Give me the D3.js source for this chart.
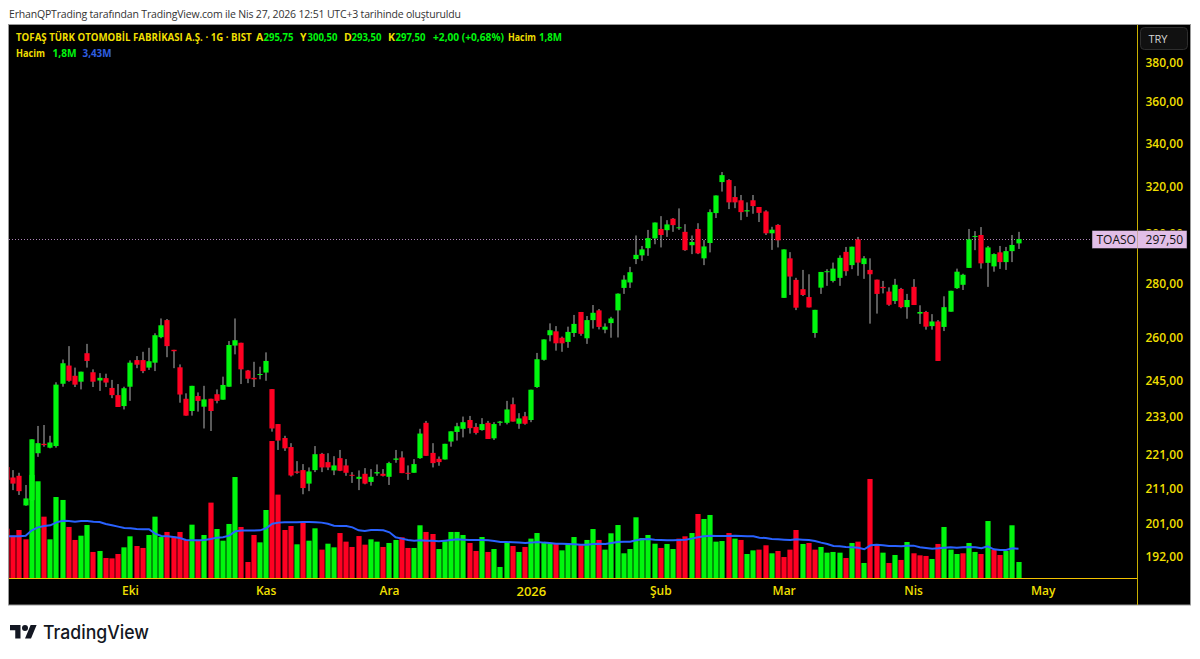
<!DOCTYPE html>
<html><head><meta charset="utf-8">
<script src="https://cdn.jsdelivr.net/npm/d3@7/dist/d3.min.js"></script>
<style>html,body{margin:0;padding:0;background:#fff;overflow:hidden}svg{display:block}
text{font-family:"Open Sans","Noto Sans",sans-serif}</style></head><body>
<svg id="c" width="1200" height="659"></svg>
<script>
const opens=[217.1,214,214.5,205.9,207.4,221.3,224.2,223,223.5,243.6,249.8,246.3,244.3,254.1,247.5,244.7,245.5,242.2,239.8,236.2,242.6,251.7,251.7,249.1,250.8,259.8,266,255.3,249.2,238.6,234.6,239.5,236,238.6,240.1,238.3,242.6,256.8,257.8,248.1,245.6,246.6,247.4,241.8,230.4,226,223.2,215.8,216.2,212.2,216.2,221.1,218.6,216.1,219.8,217.6,214.8,213.6,215.1,212.7,215.2,215.1,214.2,219.3,220,215.4,215.4,219.8,230.8,221.4,219.6,219.4,224.9,227.9,228.9,231.7,229.5,228.5,230.8,225.9,230.8,230.8,236.8,230.5,232.9,231.7,242.5,251.8,260.5,261.9,259.6,258.1,261.3,269,259.4,266,269.6,262.5,264.9,269.6,278.1,280.2,289.4,290.9,293.8,297.8,301.7,301.2,306,302,300.5,295,301.7,289.7,295.9,308.4,321.9,322.8,315.3,313.9,309.1,313.9,311,309.1,299.9,303.4,274.3,289.7,281.2,277.6,274.6,261.3,278.2,284.2,280.8,282,292.3,287,297.4,287.4,285.1,281.3,278.5,276.7,273.1,277.7,270.8,278.5,268.4,269,263.8,265.5,263.5,269.1,278,279.3,285.9,298.4,299.2,287.9,286.5,292.1,288.2,292.6,295.75];
const highs=[217.1,216.2,215.4,211.8,225.6,229.8,230.1,226.7,244.1,251.9,256.6,249.1,247.7,257.4,248.5,247.2,247,244.9,243.5,242.6,251.6,253.1,254.6,256,261.2,266.6,266.4,255.3,250.2,240.4,242.9,240.7,242.9,238.6,241.7,246,258.4,266.6,257.8,248.3,251.1,249.4,254.4,241.8,230.4,226.7,224.4,218.9,218,217,223.5,221.4,221.3,220.4,222.3,219.5,215.6,216.1,216.8,216.5,217.9,216.5,218.7,222.3,221.9,217.6,219.5,228.9,231.4,224.4,220.3,224.2,228.1,230.8,232.8,233,230.7,232.3,231.4,231,231.4,237.9,239,233.9,234.3,241.6,254.2,259,264.8,263.8,260,263.6,267.9,269,267.5,271.6,270.1,264.8,267.2,276,283,286.3,299,294.7,301.3,304.4,307.1,305.4,306.3,310.4,303.7,299,304.1,297.1,310,316,326.4,323.2,320.1,316.2,313,316.2,311,309.6,302.6,303.7,293.3,292.2,282,285.1,283.4,269.8,284.3,285.4,288,290.9,294.3,294.4,298.4,290.6,289.7,281.3,280.8,278.3,281.6,278.1,275.8,281.5,271.5,269.4,268.2,266,274.9,277,285.6,283.6,301.7,300.8,302.5,294.7,291.7,294.7,294.3,299.2,300.5];
const lows=[213.3,210.3,208.9,205.8,207.4,220.2,223.3,222.8,223,242.6,244.3,242.5,241.7,249.1,242.5,241.2,242.5,238.8,235.9,235.1,237.9,248.9,247.2,248.3,247.9,259.4,252.7,248.9,237.3,233.1,233.1,234.4,229,228.2,237.1,238.3,242.6,253.7,243.5,243.8,242.5,245.1,244.6,228,222.3,222,214.3,215.1,209.1,210,215.6,215.6,216.2,214.7,215.9,214.5,212.4,210.3,212,211.6,214.5,214.3,211.8,218.4,215.3,213.3,215.4,219.6,220.5,217,217.5,219.4,223.3,225.2,226.2,227.4,227.1,228.3,225.7,225.4,229.9,230.3,231.2,228.9,230.2,231,242.2,251.5,258.3,255,254.6,256,259.9,260.3,257.4,262.9,262.6,261.2,259.6,259.7,275.8,278.1,287.4,288.7,290.7,295.4,294.1,298.4,300.5,301.3,292.7,291.4,291.4,287,292.1,306.3,317.7,310.1,310.5,305.4,306.8,308.1,304.6,299.2,293.1,294.1,274.3,275.4,269.7,275,270.7,259.6,275.8,278.9,280.2,278.9,282.8,285.4,282.8,281.6,264.7,268.4,276,271.3,272,270.4,266.5,271.6,264.6,262.5,262.5,251.4,262,269.1,277.7,277.3,285.9,293,285.6,278.5,284.4,285.5,285.1,288.2,293.5];
const closes=[213.3,212.2,210,207.9,225.6,224.4,223.8,224.6,243.3,250.6,244.6,243.3,247.7,251.4,244.3,245.6,244,239.8,235.9,242.1,250.8,250.1,247.9,251.3,260.5,264.1,256.6,254.8,240,233.1,242.9,237.9,238.4,234.6,237.9,243.2,257,258.7,248.5,245.3,245.1,246.9,251.4,229,225.2,222.8,214.6,215.4,210.9,215.8,221,217,217,217.6,216,215.4,214.6,214.2,212.2,214.2,215.6,214.5,218.3,219.7,215.3,215.1,218,227.4,220.5,218.3,218.6,224.2,228.1,229.7,231,229.1,227.6,230.4,225.7,230.4,231.2,235.1,231.2,232.2,230.5,241.6,252,259,262.3,257.6,257.6,261.7,264.6,261,266,268.7,263.5,263.6,266.6,275.9,281.3,284.2,291.1,293.3,297.9,304.4,299.2,303.6,303.3,302.4,293,296.3,291.7,294.5,308.8,316,325,313,313,308.8,309.6,311.4,308.5,299.9,301.4,297,293.3,282.5,270.6,275.4,270.7,269.8,284.3,284.6,285.6,289.9,284.6,294.4,288,289.7,283.4,275.8,278,271.7,279.3,270.8,273.5,271.6,269,263.6,265.5,251.4,270.8,277,284.4,283.2,297.4,298.8,287.7,294.1,291.4,288.2,292.6,295.1,297.5];
const volumes=[5.55,4.76,5.4,4.35,11.6,10.88,6.9,4.35,9.11,8.78,5.74,4.28,4.76,5.96,2.93,3.04,2.25,2.21,2.7,3.45,4.69,3.6,3.38,4.84,6.9,4.61,5.18,4.65,5.18,4.28,6,4.28,4.84,8.48,5.51,4.2,6.08,11.36,5.74,1.8,4.84,4.01,7.65,15.41,9.38,5.4,5.85,3.79,6.34,4.2,5.59,3.19,3.86,3.45,5.06,4.09,3.49,4.72,3.75,4.35,4.09,3.49,3.94,4.28,4.58,3.38,3.38,5.93,5.18,4.95,3.26,4.13,5.18,5.18,4.84,3.94,3.04,4.61,2.93,3.26,1.24,4.05,3.6,2.93,3.49,4.43,5.06,3.94,3.94,3.83,3.11,3.83,4.61,3.75,4.28,5.51,4.28,3.19,5.03,5.96,2.78,3.26,6.83,4.5,4.84,3.86,3.38,3.83,3.26,4.43,4.69,5.06,7.2,6.64,7.09,4.09,4.16,5.06,4.43,4.28,2.7,3.11,3.19,3.68,2.78,3.04,2.36,3.19,5.4,3.83,3.94,3.19,3.49,2.85,2.93,2.85,2.25,3.94,4.09,1.69,11.14,3.83,2.85,1.69,2.59,2.03,4.05,2.78,2.55,2.48,2.14,3.83,5.74,3.19,2.7,2.78,3.94,2.93,2.7,6.41,3.19,2.59,3.04,5.93,1.8];
const volumeDirection=["r","r","r","r","g","g","r","g","g","g","r","r","g","g","r","g","r","r","r","g","g","r","r","g","g","g","r","r","r","r","g","r","g","r","g","g","g","g","r","r","r","g","g","r","r","r","r","g","r","g","g","r","g","g","r","r","r","r","r","g","g","r","g","g","r","r","g","g","r","r","g","g","g","g","g","r","r","g","r","g","g","g","r","g","r","g","g","g","g","r","g","g","g","r","g","g","r","g","g","g","g","g","g","g","g","g","r","g","g","r","r","g","r","g","g","g","g","r","g","r","g","g","r","r","g","r","r","r","r","g","r","r","g","g","g","g","r","g","r","g","r","r","g","r","g","r","g","r","r","r","g","r","g","g","g","r","g","g","r","g","r","r","g","g","g"];
const volumeAverage=[4.69,4.69,4.69,4.76,5.36,5.7,5.85,5.93,6.26,6.45,6.41,6.34,6.41,6.41,6.34,6.3,6.08,5.93,5.78,5.63,5.59,5.51,5.48,5.48,4.99,4.73,4.69,4.61,4.5,4.28,4.24,4.24,4.28,4.39,4.54,4.58,4.76,5.25,5.33,5.33,5.33,5.36,5.59,6.11,6.23,6.26,6.26,6.26,6.3,6.3,6.26,6.23,6.11,5.89,5.85,5.85,5.7,5.36,5.29,5.4,5.4,5.36,5.14,4.58,4.43,4.28,4.2,4.24,4.2,4.2,4.13,4.2,4.28,4.35,4.31,4.28,4.28,4.28,4.24,4.16,4.05,4.05,4.01,3.98,3.94,3.98,4.05,3.98,3.94,3.86,3.86,3.83,3.79,3.75,3.75,3.83,3.86,3.83,3.94,4.05,4.09,4.09,4.24,4.35,4.39,4.31,4.28,4.24,4.24,4.28,4.31,4.43,4.58,4.69,4.76,4.73,4.73,4.73,4.76,4.73,4.69,4.69,4.54,4.5,4.39,4.35,4.31,4.28,4.35,4.31,4.28,4.16,3.98,3.83,3.6,3.56,3.49,3.45,3.41,3.23,3.68,3.75,3.68,3.6,3.6,3.56,3.64,3.64,3.45,3.38,3.3,3.34,3.41,3.45,3.41,3.45,3.49,3.45,3.34,3.56,3.23,3.15,3.15,3.34,3.3];
const priceTicks=[380,360,340,320,300,280,260,245,233,221,211,201,192];
const timeIndex=[20,42,62,85,106,126,147,168];
const timeLabels=["Eki","Kas","Ara","2026","Şub","Mar","Nis","May"];
const symbol="TOASO",lastPrice=297.5,currency="TRY";
const titleText="TOFAŞ TÜRK OTOMOBİL FABRİKASI A.Ş. · 1G · BIST";
const ohlcLabels=["A","Y","D","K"],ohlcValues=["295,75","300,50","293,50","297,50"];
const changeText="+2,00 (+0,68%)",volumeName="Hacim",volumeValue="1,8M",volumeAvgValue="3,43M";
const credit="ErhanQPTrading tarafından TradingView.com ile Nis 27, 2026 12:51 UTC+3 tarihinde oluşturuldu";

const GREEN="#00f60e",RED="#ff0022",YEL="#efdf00",AXIS="#c9b000",BASE="#f2c200",BLUE="#2962ff",PINK="#e1bee7";
const svg=d3.select("#c");
const pL=9,pR=1137,pO=1191,pT=25,base=578,pB=605;
svg.append("rect").attr("x",pL-.5).attr("y",pT-.5).attr("width",pO-pL).attr("height",pB-pT+.5).attr("fill","#000").attr("stroke","#999");
svg.append("defs").append("clipPath").attr("id","plot").append("rect").attr("x",pL).attr("y",pT).attr("width",pR-pL).attr("height",base-pT);
const x=d3.scaleLinear().domain([0,164]).range([7.15,1018.5]);
const y=d3.scaleLog().domain([380,192]).range([62,556]);
const v=d3.scaleLinear().domain([0,18]).range([base,base-160]);
const idx=d3.range(closes.length);
const px=i=>Math.round(x(i));
const plot=svg.append("g").attr("clip-path","url(#plot)");
plot.append("g").selectAll("rect").data(idx).join("rect")
 .attr("x",i=>px(i)-2.6).attr("width",5.2).attr("y",i=>v(volumes[i])).attr("height",i=>base-v(volumes[i]))
 .attr("fill",i=>volumeDirection[i]=="g"?GREEN:RED);
plot.append("path").attr("d",d3.line().x(i=>x(i)).y(i=>v(volumeAverage[i])).curve(d3.curveLinear)(idx)).attr("fill","none").attr("stroke",BLUE).attr("stroke-width",2);
plot.append("line").attr("x1",pL).attr("x2",1092).attr("y1",Math.round(y(lastPrice))+.5).attr("y2",Math.round(y(lastPrice))+.5).attr("stroke","#c99ad6").attr("stroke-opacity",.85).attr("stroke-dasharray","1 2");
plot.append("g").selectAll("line").data(idx).join("line")
 .attr("x1",i=>px(i)).attr("x2",i=>px(i)).attr("y1",i=>y(highs[i])).attr("y2",i=>y(lows[i]))
 .attr("stroke","#b4b4b4").attr("stroke-width",1);
plot.append("g").selectAll("rect").data(idx).join("rect")
 .attr("x",i=>px(i)-2.6).attr("width",5.2)
 .attr("y",i=>y(Math.max(opens[i],closes[i])))
 .attr("height",i=>Math.max(1,Math.abs(y(opens[i])-y(closes[i]))))
 .attr("fill",i=>closes[i]>=opens[i]?GREEN:RED);

// axes
const fmt=d3.format(".2f");
const ya=svg.append("g").attr("transform",`translate(${pR},0.8)`).call(d3.axisRight(y).tickValues(priceTicks).tickSize(0).tickPadding(8.5).tickFormat(d=>fmt(d).replace(".",",")));
ya.select(".domain").remove();
ya.selectAll("text").attr("fill",YEL).style("font-size","12px").style("font-weight",600).style("font-family",'"Open Sans"');
const xa=svg.append("g").attr("transform",`translate(-0.5,${base})`).call(d3.axisBottom(x).tickValues(timeIndex).tickSize(0).tickPadding(8.5).tickFormat((d,i)=>timeLabels[i]));
xa.select(".domain").remove();
xa.selectAll("text").attr("fill",YEL).style("font-size",d=>d==85?"13px":"12px").style("font-weight",600).style("font-family",'"Open Sans"');
svg.append("line").attr("x1",pL).attr("x2",pR+.5).attr("y1",base+.5).attr("y2",base+.5).attr("stroke",BASE);
svg.append("line").attr("x1",pR+.5).attr("x2",pR+.5).attr("y1",pT).attr("y2",pB).attr("stroke",AXIS);

// TRY box
svg.append("rect").attr("x",1140.5).attr("y",27.5).attr("width",47).attr("height",22).attr("rx",4).attr("fill","#111").attr("stroke","#2e2e2e");
svg.append("text").attr("x",1148.5).attr("y",43).attr("fill","#d6d6d6").style("font-size","11px").text(currency);

// last price label
const ly=y(lastPrice);
svg.append("rect").attr("x",1092).attr("y",Math.round(ly)-8.5).attr("width",95).attr("height",18).attr("fill",PINK).attr("stroke","#111").attr("stroke-width",.5);
svg.append("line").attr("x1",pR+.5).attr("x2",pR+.5).attr("y1",Math.round(ly)-8.5).attr("y2",Math.round(ly)+9.5).attr("stroke","#c9a8a0");
svg.append("text").attr("x",1096.5).attr("y",ly+5).attr("fill","#111").style("font-size","12px").style("font-weight",500).text(symbol);
svg.append("text").attr("x",1183).attr("y",ly+4.5).attr("text-anchor","end").attr("fill","#111").style("font-size","12px").style("font-weight",500).text(fmt(lastPrice).replace(".",","));

// legend
const lg=svg.append("g").style("font-size","10.5px").style("font-weight",700);
const put=(xx,yy,t,c,w)=>{const e=lg.append("text").attr("x",xx).attr("y",yy).attr("fill",c).text(t);if(w)e.attr("textLength",w).attr("lengthAdjust","spacingAndGlyphs");return e;};
put(16,41,titleText,YEL).style("font-size","9.7px");
const lx=[256,300,344,388];
ohlcLabels.forEach((l,i)=>{put(lx[i],41,l,YEL);put(lx[i]+7.5,41,ohlcValues[i],GREEN,30);});
put(433,41,changeText,GREEN,71);
put(508,41,volumeName,YEL,28);put(539,41,volumeValue,GREEN,23);
put(16,57,volumeName,YEL,29);put(52.5,57,volumeValue,GREEN,24);put(82.5,57,volumeAvgValue,"#2f5fe0",29);

// credit
svg.append("text").attr("x",9).attr("y",17.5).attr("fill","#333").style("font-size","10.5px").attr("textLength",452).attr("lengthAdjust","spacing").text(credit);

// logo
const logo=svg.append("g").attr("transform","translate(10,625) scale(.75)").attr("fill","#131722");
logo.append("path").attr("d","M14 18H7V7H0V0h14v18zM28 18h-8L27.5 0h8L28 18z");
logo.append("circle").attr("cx",20).attr("cy",4).attr("r",4);
svg.append("text").attr("x",43).attr("y",638.5).attr("fill","#131722").style("font-size","18.5px").style("font-weight",500).style("font-family",'"Inter","Open Sans"').attr("textLength",106).attr("lengthAdjust","spacingAndGlyphs").text("TradingView");
</script></body></html>
